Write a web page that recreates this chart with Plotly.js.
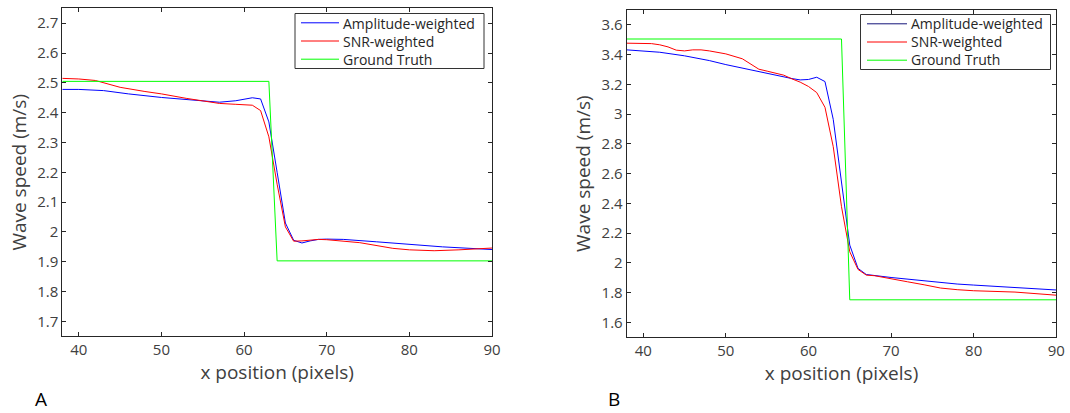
<!DOCTYPE html>
<html>
<head>
<meta charset="utf-8">
<script src="https://cdn.plot.ly/plotly-3.0.1.min.js"></script>
<style>
  html, body { margin: 0; padding: 0; background: #ffffff; }
  #chart { width: 1070px; height: 413px; }
</style>
</head>
<body>
<div id="chart"></div>
<script>
// ---------- Panel A data ----------
const xA_amp = [38, 40, 43, 46, 50, 53, 55, 57, 59, 60, 61, 62, 63, 64, 65, 66, 67, 68, 69, 70, 72, 76, 80, 84, 90];
const yA_amp = [2.478, 2.478, 2.474, 2.463, 2.451, 2.444, 2.440, 2.435, 2.440, 2.445, 2.450, 2.446, 2.369, 2.200, 2.030, 1.972, 1.963, 1.970, 1.975, 1.976, 1.975, 1.967, 1.958, 1.950, 1.941];

const xA_snr = [38, 40, 42, 45, 48, 50, 53, 55, 57, 59, 61, 62, 63, 64, 65, 66, 67, 69, 70, 74, 78, 80, 83, 86, 90];
const yA_snr = [2.515, 2.513, 2.508, 2.485, 2.471, 2.463, 2.448, 2.440, 2.431, 2.428, 2.425, 2.407, 2.319, 2.160, 2.017, 1.969, 1.970, 1.975, 1.974, 1.964, 1.945, 1.940, 1.937, 1.940, 1.946];

const xA_gt = [38, 63, 64, 90];
const yA_gt = [2.505, 2.505, 1.903, 1.903];

// ---------- Panel B data ----------
const xB_amp = [38, 40, 42, 45, 48, 50, 52, 55, 57, 58, 59, 60, 61, 62, 63, 64, 65, 66, 67, 70, 72, 75, 78, 80, 85, 90];
const yB_amp = [3.432, 3.425, 3.416, 3.392, 3.360, 3.333, 3.309, 3.271, 3.248, 3.239, 3.230, 3.233, 3.248, 3.219, 2.965, 2.524, 2.120, 1.963, 1.922, 1.902, 1.891, 1.873, 1.858, 1.851, 1.837, 1.818];

const xB_snr = [38, 40, 41, 42, 43, 44, 45, 46, 47, 48, 50, 52, 54, 55, 56, 57, 58, 59, 60, 61, 62, 63, 64, 65, 66, 67, 68, 70, 72, 74, 76, 78, 80, 85, 90];
const yB_snr = [3.477, 3.477, 3.474, 3.466, 3.452, 3.430, 3.425, 3.432, 3.432, 3.425, 3.405, 3.372, 3.302, 3.289, 3.275, 3.262, 3.237, 3.215, 3.186, 3.145, 3.046, 2.781, 2.378, 2.075, 1.956, 1.918, 1.914, 1.891, 1.873, 1.853, 1.831, 1.820, 1.813, 1.804, 1.783];

const xB_gt = [38, 64, 65, 90];
const yB_gt = [3.505, 3.505, 1.752, 1.752];

// ---------- Tick labels ----------
const xTickVals = [40, 50, 60, 70, 80, 90];
const xTickText = ["40", "50", "60", "70", "80", "90"];
const yTickValsA = [1.7, 1.8, 1.9, 2.0, 2.1, 2.2, 2.3, 2.4, 2.5, 2.6, 2.7];
const yTickTextA = ["1.7", "1.8", "1.9", "2", "2.1", "2.2", "2.3", "2.4", "2.5", "2.6", "2.7"];
const yTickValsB = [1.6, 1.8, 2.0, 2.2, 2.4, 2.6, 2.8, 3.0, 3.2, 3.4, 3.6];
const yTickTextB = ["1.6", "1.8", "2", "2.2", "2.4", "2.6", "2.8", "3", "3.2", "3.4", "3.6"];

const seriesNames = ["Amplitude-weighted", "SNR-weighted", "Ground Truth"];
const panelLabels = ["A", "B"];
const xTitle = "x position (pixels)";
const yTitle = "Wave speed (m/s)";

// ---------- Styles ----------
const W = 1070, H = 413;
const FONT = "Open Sans, Noto Sans, sans-serif";
const AXCOL = "#262626";
const TICKCOL = "#404040";
const BLUE = "#0000ff", RED = "#ff0000", GREEN = "#00ff00";
const LEG_SIZE = 14;
const LEG_ROW = LEG_SIZE * 1.3;

const traces = [
  {x: xA_amp, y: yA_amp, name: seriesNames[0], type: "scatter", mode: "lines", line: {color: BLUE, width: 1}, xaxis: "x", yaxis: "y"},
  {x: xA_snr, y: yA_snr, name: seriesNames[1], type: "scatter", mode: "lines", line: {color: RED, width: 1}, xaxis: "x", yaxis: "y"},
  {x: xA_gt, y: yA_gt, name: seriesNames[2], type: "scatter", mode: "lines", line: {color: GREEN, width: 1}, xaxis: "x", yaxis: "y"},
  {x: xB_amp, y: yB_amp, name: seriesNames[0], type: "scatter", mode: "lines", line: {color: BLUE, width: 1}, xaxis: "x2", yaxis: "y2"},
  {x: xB_snr, y: yB_snr, name: seriesNames[1], type: "scatter", mode: "lines", line: {color: RED, width: 1}, xaxis: "x2", yaxis: "y2"},
  {x: xB_gt, y: yB_gt, name: seriesNames[2], type: "scatter", mode: "lines", line: {color: GREEN, width: 1}, xaxis: "x2", yaxis: "y2"}
];

function xAxis(domain, anchor) {
  return {
    domain: domain, anchor: anchor, range: [38, 90],
    tickmode: "array", tickvals: xTickVals, ticktext: xTickText,
    ticks: "inside", ticklen: 4, tickwidth: 1, tickcolor: AXCOL,
    showline: true, linecolor: AXCOL, linewidth: 1, mirror: "ticks",
    showgrid: false, zeroline: false, automargin: false,
    tickfont: {family: FONT, size: 15, color: TICKCOL},
    title: {text: xTitle, font: {family: FONT, size: 19, color: TICKCOL}, standoff: 3}
  };
}
function yAxis(domain, anchor, range, vals, text) {
  return {
    domain: domain, anchor: anchor, range: range,
    tickmode: "array", tickvals: vals, ticktext: text,
    ticks: "inside", ticklen: 4, tickwidth: 1, tickcolor: AXCOL,
    showline: true, linecolor: AXCOL, linewidth: 1, mirror: "ticks",
    showgrid: false, zeroline: false, automargin: false,
    tickfont: {family: FONT, size: 15, color: TICKCOL},
    title: {text: yTitle, font: {family: FONT, size: 19, color: TICKCOL}, standoff: 5}
  };
}

// ---------- Legend boxes (drawn in pixel space, converted to paper) ----------
const shapes = [];
const annotations = [];
const px = v => v / W;
const py = v => 1 - v / H;
function addLegend(box, swX0, swX1, textX, colors) {
  const cy = (box[2] + box[3]) / 2;
  shapes.push({type: "rect", xref: "paper", yref: "paper", x0: px(box[0]), x1: px(box[1]), y0: py(box[2]), y1: py(box[3]),
               line: {color: "#333333", width: 1}, fillcolor: "#ffffff", layer: "above"});
  colors.forEach((c, i) => {
    const ry = cy + (i - 1) * LEG_ROW;
    shapes.push({type: "line", xref: "paper", yref: "paper", x0: px(swX0), x1: px(swX1), y0: py(ry), y1: py(ry),
                 line: {color: c, width: 1}, layer: "above"});
  });
  annotations.push({text: seriesNames.join("<br>"), xref: "paper", yref: "paper", x: px(textX), y: py(cy),
                    xanchor: "left", yanchor: "middle", align: "left", showarrow: false, borderpad: 0,
                    font: {family: FONT, size: LEG_SIZE, color: "#262626"}});
}
addLegend([295, 484, 13.5, 68.5], 301, 339, 342, [BLUE, RED, GREEN]);
addLegend([860.5, 1050.5, 14.5, 69.5], 867, 907, 910, ["#14147a", RED, GREEN]);

annotations.push({text: panelLabels[0], xref: "paper", yref: "paper", x: px(41), y: py(399), xanchor: "center", yanchor: "middle", showarrow: false, font: {family: FONT, size: 19, color: "#000000"}});
annotations.push({text: panelLabels[1], xref: "paper", yref: "paper", x: px(614), y: py(399), xanchor: "center", yanchor: "middle", showarrow: false, font: {family: FONT, size: 19, color: "#000000"}});

const layout = {
  width: W, height: H,
  margin: {l: 0, r: 0, t: 0, b: 0},
  paper_bgcolor: "#ffffff", plot_bgcolor: "#ffffff",
  showlegend: false,
  xaxis: xAxis([0.0582, 0.4598], "y"),
  yaxis: yAxis([0.1857, 0.9799], "x", [1.65, 2.75], yTickValsA, yTickTextA),
  xaxis2: xAxis([0.5857, 0.9872], "y2"),
  yaxis2: yAxis([0.1833, 0.9758], "x2", [1.5, 3.7], yTickValsB, yTickTextB),
  shapes: shapes,
  annotations: annotations
};

Plotly.newPlot("chart", traces, layout, {displayModeBar: false, staticPlot: true});
</script>
</body>
</html>
